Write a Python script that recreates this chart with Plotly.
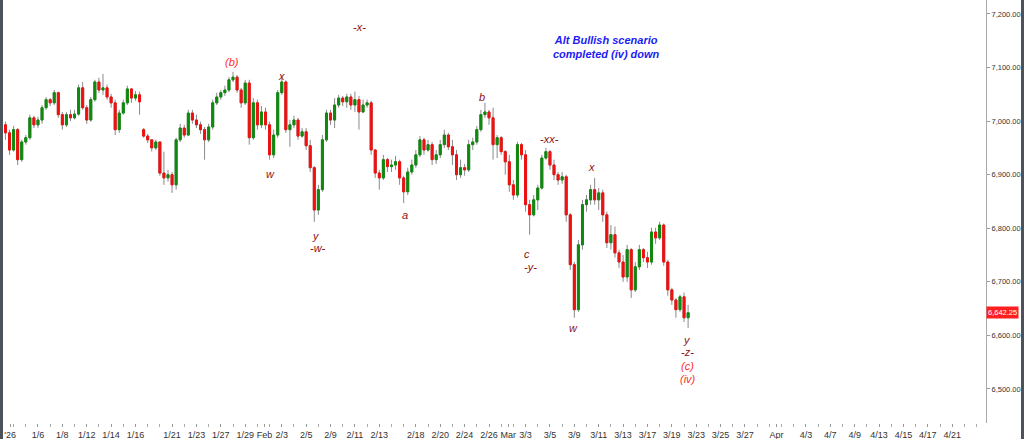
import pandas as pd
import plotly.graph_objects as go

# three bars per session (04:00 / 12:00 / 20:00), plus the Jan 1 evening open
sessions = ["04:00", "12:00", "20:00"]
trade_days = pd.bdate_range("2026-01-02", "2026-03-20")
bar_time = ["2026-01-01 20:00"] + [f"{d:%Y-%m-%d} {s}" for d in trade_days for s in sessions]

opens = [6993,
         6978, 6946, 6984, 6928, 6961, 6969, 7006, 6993, 7002, 7025, 7040, 7034,
         7053, 7012, 6993, 7012, 7006, 7013, 7062, 7025, 7002, 7040, 7073, 7058,
         7062, 7045, 7034, 6984, 7015, 7034, 7060, 7043, 7049, 6984, 6972, 6965,
         6950, 6961, 6903, 6894, 6900, 6881, 6965, 6987, 6974, 7015, 7002, 6993,
         6984, 6965, 6989, 7034, 7045, 7053, 7058, 7077, 7082, 7058, 7034, 7071,
         6969, 7034, 6993, 7017, 6993, 6937, 6974, 7053, 7073, 6984, 6993, 7002,
         6972, 6980, 6954, 6913, 6834, 6872, 6965, 7015, 7002, 7030, 7043, 7036,
         7045, 7030, 7040, 7017, 7030, 7034, 6946, 6903, 6894, 6928, 6915, 6918,
         6924, 6894, 6868, 6905, 6918, 6937, 6965, 6946, 6956, 6928, 6937, 6956,
         6974, 6952, 6937, 6900, 6913, 6909, 6956, 6961, 6984, 7012, 7017, 7006,
         6956, 6969, 6943, 6924, 6881, 6862, 6956, 6937, 6844, 6825, 6853, 6875,
         6931, 6943, 6918, 6900, 6890, 6896, 6825, 6732, 6648, 6769, 6844, 6853,
         6872, 6853, 6866, 6825, 6773, 6788, 6754, 6737, 6709, 6760, 6685, 6728,
         6760, 6745, 6737, 6793, 6782, 6806, 6737, 6685, 6666, 6648, 6672, 6633]

highs = [6999,
         6984, 6991, 6987, 6965, 6974, 7012, 7010, 7008, 7030, 7045, 7043, 7058,
         7055, 7017, 7017, 7021, 7021, 7068, 7073, 7030, 7045, 7077, 7081, 7088,
         7068, 7051, 7040, 7021, 7040, 7066, 7062, 7056, 7055, 6987, 6976, 6965,
         6965, 6961, 6943, 6909, 6905, 6969, 6995, 6993, 7021, 7021, 7012, 6999,
         6989, 6995, 7040, 7053, 7058, 7066, 7082, 7092, 7086, 7062, 7077, 7077,
         7043, 7040, 7028, 7025, 6999, 6984, 7058, 7081, 7076, 7002, 7010, 7006,
         6987, 6987, 6965, 6916, 6881, 6974, 7021, 7021, 7043, 7049, 7047, 7051,
         7051, 7055, 7047, 7040, 7040, 7038, 6948, 6909, 6937, 6931, 6928, 6935,
         6928, 6898, 6913, 6928, 6946, 6972, 6969, 6965, 6961, 6946, 6965, 6984,
         6978, 6965, 6946, 6928, 6920, 6965, 6969, 6991, 7021, 7034, 7021, 7025,
         6974, 6972, 6946, 6937, 6890, 6961, 6959, 6946, 6853, 6862, 6881, 6937,
         6950, 6946, 6928, 6905, 6905, 6900, 6828, 6737, 6778, 6853, 6862, 6881,
         6894, 6875, 6872, 6831, 6806, 6803, 6760, 6750, 6769, 6763, 6737, 6769,
         6763, 6756, 6801, 6801, 6812, 6809, 6741, 6689, 6670, 6676, 6680, 6657]

lows = [6965,
        6937, 6943, 6918, 6924, 6956, 6965, 6987, 6987, 6995, 7021, 7028, 7030,
        7006, 6984, 6989, 7000, 7003, 7010, 7021, 6995, 6999, 7036, 7053, 7049,
        7040, 7025, 6974, 6978, 7012, 7030, 7034, 7038, 7012, 6969, 6959, 6943,
        6946, 6898, 6881, 6887, 6866, 6872, 6961, 6969, 6972, 6995, 6987, 6976,
        6928, 6961, 6984, 7030, 7040, 7047, 7054, 7073, 7053, 7025, 7030, 6956,
        6965, 6984, 6987, 6984, 6928, 6931, 6969, 7049, 6978, 6952, 6987, 6965,
        6969, 6946, 6905, 6812, 6825, 6868, 6961, 6993, 6987, 7025, 7028, 7025,
        7021, 7017, 6984, 7015, 7025, 6937, 6894, 6872, 6890, 6905, 6905, 6909,
        6881, 6847, 6862, 6900, 6913, 6933, 6937, 6943, 6918, 6920, 6931, 6950,
        6946, 6918, 6890, 6894, 6898, 6905, 6946, 6956, 6980, 7006, 6993, 6928,
        6931, 6937, 6900, 6868, 6853, 6857, 6928, 6831, 6788, 6822, 6834, 6872,
        6928, 6909, 6890, 6881, 6883, 6812, 6722, 6633, 6644, 6760, 6831, 6844,
        6844, 6834, 6812, 6763, 6760, 6745, 6726, 6700, 6700, 6670, 6681, 6722,
        6737, 6726, 6732, 6771, 6778, 6730, 6674, 6657, 6633, 6644, 6625, 6614]

closes = [6978,
          6946, 6984, 6928, 6961, 6969, 7006, 6993, 7002, 7025, 7040, 7034, 7053,
          7012, 6993, 7012, 7006, 7013, 7062, 7025, 7002, 7040, 7073, 7058, 7062,
          7045, 7034, 6984, 7015, 7034, 7060, 7043, 7049, 7036, 6972, 6965, 6950,
          6961, 6903, 6894, 6900, 6881, 6965, 6987, 6974, 7015, 7002, 6993, 6984,
          6965, 6989, 7034, 7045, 7053, 7058, 7077, 7082, 7058, 7034, 7071, 6969,
          7034, 6993, 7017, 6993, 6937, 6974, 7053, 7073, 6984, 6993, 7002, 6972,
          6980, 6954, 6913, 6834, 6872, 6965, 7015, 7002, 7030, 7043, 7036, 7045,
          7030, 7040, 7017, 7030, 7034, 6946, 6903, 6894, 6928, 6915, 6918, 6924,
          6894, 6868, 6905, 6918, 6937, 6965, 6946, 6956, 6928, 6937, 6956, 6974,
          6952, 6937, 6900, 6913, 6909, 6956, 6961, 6984, 7012, 7017, 7006, 6956,
          6969, 6943, 6924, 6881, 6862, 6956, 6937, 6844, 6825, 6853, 6875, 6931,
          6943, 6918, 6900, 6890, 6896, 6825, 6732, 6648, 6769, 6844, 6853, 6872,
          6853, 6866, 6825, 6773, 6788, 6754, 6737, 6709, 6760, 6685, 6728, 6760,
          6745, 6737, 6793, 6782, 6806, 6737, 6685, 6666, 6648, 6672, 6633, 6642.25]

tick_dates = ["2026-01-02 05:00", "2026-01-06 12:00", "2026-01-08 12:00", "2026-01-12 12:00",
              "2026-01-14 12:00", "2026-01-16 12:00", "2026-01-21 12:00", "2026-01-23 12:00",
              "2026-01-27 12:00", "2026-01-29 12:00", "2026-02-02 02:00", "2026-02-03 12:00",
              "2026-02-05 12:00", "2026-02-09 12:00", "2026-02-11 12:00", "2026-02-13 12:00",
              "2026-02-18 12:00", "2026-02-20 12:00", "2026-02-24 12:00", "2026-02-26 12:00",
              "2026-03-02 02:00", "2026-03-03 12:00", "2026-03-05 12:00", "2026-03-09 12:00",
              "2026-03-11 12:00", "2026-03-13 12:00", "2026-03-17 12:00", "2026-03-19 12:00",
              "2026-03-23 12:00", "2026-03-25 12:00", "2026-03-27 12:00", "2026-04-01 02:00",
              "2026-04-03 12:00", "2026-04-07 12:00", "2026-04-09 12:00", "2026-04-13 12:00",
              "2026-04-15 12:00", "2026-04-17 12:00", "2026-04-21 12:00"]
tick_text = ["'26", "1/6", "1/8", "1/12", "1/14", "1/16", "1/21", "1/23", "1/27", "1/29",
             "Feb", "2/3", "2/5", "2/9", "2/11", "2/13", "2/18", "2/20", "2/24", "2/26",
             "Mar", "3/3", "3/5", "3/9", "3/11", "3/13", "3/17", "3/19", "3/23", "3/25", "3/27",
             "Apr", "4/3", "4/7", "4/9", "4/13", "4/15", "4/17", "4/21"]
minor_dates = [f"{d:%Y-%m-%d} 12:00" for d in pd.bdate_range("2026-01-01", "2026-04-24")]

# wave labels: (text, x px, y px, colour)
DARK = "#8e1010"
BRIGHT = "#ff2b2b"
wave_labels = [("(b)", 232, 62, BRIGHT), ("x", 281, 76, DARK), ("w", 270, 174, DARK),
               ("-x-", 359, 27, DARK), ("y", 316, 236, DARK), ("-w-", 318, 248, DARK),
               ("a", 405, 215, DARK), ("b", 482, 97, DARK), ("-xx-", 549, 139, DARK),
               ("c", 527, 254, DARK), ("-y-", 530, 267, DARK), ("x", 591, 167, DARK),
               ("w", 573, 328, DARK), ("y", 687, 340, DARK), ("-z-", 687, 352, DARK),
               ("(c)", 687, 366, BRIGHT), ("(iv)", 688, 379, BRIGHT)]

PW, PH = 986, 423   # plot area in pixels

body_hi = [max(o, c) for o, c in zip(opens, closes)]
body_lo = [min(o, c) for o, c in zip(opens, closes)]

fig = go.Figure()
# grey wicks underneath
fig.add_trace(go.Candlestick(
    x=bar_time, open=opens, high=highs, low=lows, close=closes,
    increasing=dict(line=dict(color="#8a8a8a", width=1), fillcolor="#8a8a8a"),
    decreasing=dict(line=dict(color="#8a8a8a", width=1), fillcolor="#8a8a8a"),
    showlegend=False, hoverinfo="skip"))
# coloured bodies on top
fig.add_trace(go.Candlestick(
    x=bar_time, open=opens, high=body_hi, low=body_lo, close=closes,
    increasing=dict(line=dict(color="#0e8a0e", width=1), fillcolor="#0e8a0e"),
    decreasing=dict(line=dict(color="#f01010", width=1), fillcolor="#f01010"),
    showlegend=False))

for txt, x, y, col in wave_labels:
    fig.add_annotation(x=x / PW, y=1 - y / PH, xref="paper", yref="paper",
                       xanchor="center", yanchor="middle", text=f"<i>{txt}</i>",
                       showarrow=False, font=dict(size=11, color=col))

fig.add_annotation(x=606 / PW, y=1 - 47 / PH, xref="paper", yref="paper",
                   xanchor="center", yanchor="middle",
                   text="<b><i>Alt Bullish scenario<br>completed (iv) down</i></b>",
                   showarrow=False, font=dict(size=11, color="#1c1cf5"))

# last price tag
fig.add_annotation(x=1, y=closes[-1], xref="paper", yref="y", xanchor="left", yanchor="middle",
                   text=f"{closes[-1]:,.2f}", showarrow=False, bgcolor="#ff1f1f",
                   borderpad=1, font=dict(size=7.5, color="white"))

# window frame edges
fig.add_shape(type="rect", xref="paper", yref="paper", x0=0, x1=3 / PW, y0=-0.04, y1=1,
              fillcolor="#4d535a", line_width=0, layer="above")
fig.add_shape(type="rect", xref="paper", yref="paper", x0=1021 / PW, x1=1.045, y0=-0.04, y1=1,
              fillcolor="#4d535a", line_width=0, layer="above")

fig.update_layout(
    width=1024, height=439,
    margin=dict(l=0, r=38, t=0, b=16),
    paper_bgcolor="white", plot_bgcolor="white",
    font=dict(family="Liberation Sans, Arial", color="#333333"),
    xaxis=dict(
        type="date", range=["2026-01-01 09:14", "2026-04-24 06:30"],
        rangebreaks=[dict(bounds=["sat", "mon"])],
        rangeslider=dict(visible=False),
        tickmode="array", tickvals=tick_dates, ticktext=tick_text, tickangle=0,
        ticks="outside", ticklen=3, tickcolor="#999999", tickfont=dict(size=9),
        minor=dict(tickmode="array", tickvals=minor_dates, ticks="outside", ticklen=3,
                   tickcolor="#aaaaaa"),
        showgrid=False, zeroline=False, showline=False, automargin=False),
    yaxis=dict(
        side="right", range=[6436.5, 7226], tickvals=[6500, 6600, 6700, 6800, 6900, 7000, 7100, 7200],
        tickformat=",.2f", ticks="outside", ticklen=3, tickcolor="#999999", tickfont=dict(size=7.5),
        showline=True, linecolor="#aaaaaa", linewidth=1,
        showgrid=False, zeroline=False, automargin=False),
)

# page body has a default 8px margin; drop it so the chart fills the window
fig.write_html("out.html", config={"displayModeBar": False},
               post_script="document.body.style.margin='0';")
